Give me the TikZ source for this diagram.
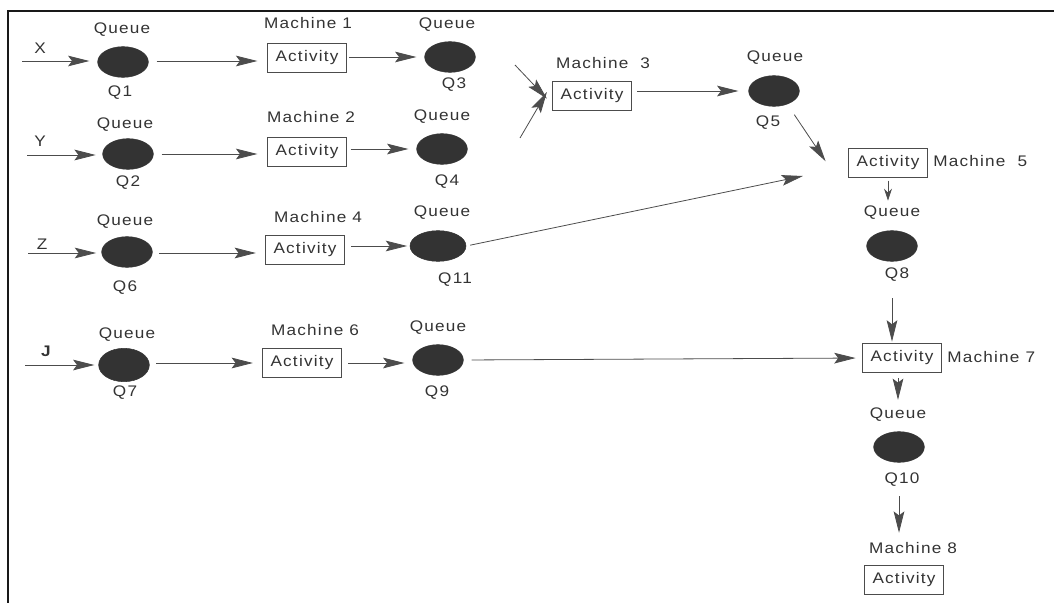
\documentclass[tikz,border=0pt]{standalone}
\usepackage{fontspec}
\newfontfamily\lblfont{Liberation Sans}[FakeStretch=1.12,LetterSpace=8]
\usetikzlibrary{arrows.meta,shapes.geometric}
\definecolor{ink}{gray}{0.2}
\definecolor{lnk}{gray}{0.3}
\definecolor{qfill}{gray}{0.2}
\tikzset{
  lbl/.style={font=\lblfont\fontsize{11.5}{13}\selectfont, text=ink, inner sep=0pt},
  queue/.style={ellipse, fill=qfill, draw=qfill, minimum width=38pt, minimum height=23pt, inner sep=0pt},
  actbox/.style={draw=lnk, line width=0.6pt, minimum width=59pt, minimum height=22pt, inner sep=0pt, font=\lblfont\fontsize{11.5}{13}\selectfont, text=ink},
  flow/.style={draw=lnk, line width=0.6pt, -{Stealth[length=16pt, width=8pt, inset=3pt]}},
}
\begin{document}
\begin{tikzpicture}[x=0.75pt, y=-0.75pt]
\useasboundingbox (0,0) rectangle (1054,603);
\draw[line width=1.6pt, black!90] (8,603) -- (8,11) -- (1054,11);

% Row 1
\node[lbl] (lx) at (40,48) {X};
\node[lbl] (lq1t) at (122,30) {Queue};
\node[queue] (q1) at (123,62) {};
\node[lbl] (lq1) at (120,93) {Q1};
\node[lbl] (lm1) at (308,23) {Machine 1};
\node[actbox] (m1) at (307,58) {Activity};
\node[lbl] (lq3t) at (447,25) {Queue};
\node[queue] (q3) at (450,57) {};
\node[lbl] (lq3) at (454,85) {Q3};
\coordinate (inx) at (22,61);

% Row 2
\node[lbl] (ly) at (40,141) {Y};
\node[lbl] (lq2t) at (125,125) {Queue};
\node[queue] (q2) at (128,154) {};
\node[lbl] (lq2) at (128,183) {Q2};
\node[lbl] (lm2) at (311,117) {Machine 2};
\node[actbox] (m2) at (307,152) {Activity};
\node[lbl] (lq4t) at (442,117) {Queue};
\node[queue] (q4) at (442,149) {};
\node[lbl] (lq4) at (447,182) {Q4};
\coordinate (iny) at (27,155);

% Row 3
\node[lbl] (lz) at (42,244) {Z};
\node[lbl] (lq6t) at (125,222) {Queue};
\node[queue] (q6) at (127,252) {};
\node[lbl] (lq6) at (125,288) {Q6};
\node[lbl] (lm4) at (318,217) {Machine 4};
\node[actbox] (m4) at (305,250) {Activity};
\node[lbl] (lq11t) at (442,213) {Queue};
\node[queue, minimum width=42pt] (q11) at (438,246) {};
\node[lbl] (lq11) at (455,280) {Q11};
\coordinate (inz) at (28,253);

% Row 4
\node[lbl, font=\lblfont\bfseries\fontsize{11.5}{13}\selectfont] (lj) at (46,351) {J};
\node[lbl] (lq7t) at (127,335) {Queue};
\node[queue, minimum height=25pt] (q7) at (124,365) {};
\node[lbl] (lq7) at (125,393) {Q7};
\node[lbl] (lm6) at (315,330) {Machine 6};
\node[actbox] (m6) at (302,363) {Activity};
\node[lbl] (lq9t) at (438,328) {Queue};
\node[queue] (q9) at (438,360) {};
\node[lbl] (lq9) at (437,393) {Q9};
\coordinate (inj) at (25,365);

% Machine 3 and Q5
\node[lbl] (lm3) at (603,63) {Machine\ \ 3};
\node[actbox] (m3) at (592,96) {Activity};
\coordinate (in3a) at (515,65);
\coordinate (in3b) at (520,138);
\node[lbl] (lq5t) at (775,58) {Queue};
\node[queue] (q5) at (774,91) {};
\node[lbl] (lq5) at (768,123) {Q5};

% Right column
\node[actbox] (m5) at (888,163) {Activity};
\node[lbl, anchor=west] (lm5) at (933,161) {Machine\ \ 5};
\coordinate (m5in) at (803,176);
\node[lbl] (lq8t) at (892,213) {Queue};
\node[queue] (q8) at (892,246) {};
\node[lbl] (lq8) at (897,275) {Q8};
\node[actbox] (m7) at (902,358) {Activity};
\node[lbl, anchor=west] (lm7) at (947,357) {Machine 7};
\node[lbl] (lq10t) at (898,415) {Queue};
\node[queue] (q10) at (899,447) {};
\node[lbl] (lq10) at (902,480) {Q10};
\node[lbl] (lm8) at (913,548) {Machine 8};
\node[actbox] (m8) at (904,580) {Activity};

% Connectors
\draw[flow] (inx) -- ([xshift=-6pt]q1.west |- inx);
\draw[flow] (iny) -- ([xshift=-5pt]q2.west |- iny);
\draw[flow] (inz) -- ([xshift=-4pt]q6.west |- inz);
\draw[flow] (inj) -- ([xshift=-3pt]q7.west |- inj);

\draw[flow, shorten <=6pt, shorten >=7.5pt] (q1.east |- inx) -- (m1.west |- inx);
\draw[flow, shorten <=6pt, shorten >=7.5pt] (q2.east) -- (m2.west |- q2.east);
\draw[flow, shorten <=5pt, shorten >=7pt] (q6.east |- inz) -- (m4.west |- inz);
\draw[flow, shorten <=5pt, shorten >=7pt] (q7.east |- m6) -- (m6.west);

\draw[flow, shorten <=2pt, shorten >=6pt] (m1.east |- q3) -- (q3.west);
\draw[flow, shorten <=3pt, shorten >=6pt] (m2.east |- q4) -- (q4.west);
\draw[flow, shorten <=5pt, shorten >=2pt] (m4.east |- q11) -- (q11.west);
\draw[flow, shorten <=5pt, shorten >=6pt] (m6.east) -- (q9.west |- m6);

\draw[flow] (in3a) -- ([xshift=-4pt,yshift=-2pt]m3.west);
\draw[flow] (in3b) -- ([xshift=-4pt,yshift=3pt]m3.west);
\draw[flow, shorten <=4pt, shorten >=7.5pt] (m3.east |- q5) -- (q5.west);

\draw[flow, shorten <=3pt] ([yshift=-7pt]q5.south east) -- ([xshift=-17pt,yshift=-10pt]m5.north west);
\draw[flow, shorten <=3pt] (q11.east) -- (m5in);
\draw[flow, shorten <=6pt, shorten >=5pt] (q9.east) -- (m7.west);

\draw[flow, -{Stealth[length=9pt, width=6pt]}, shorten <=2pt, shorten >=4pt] (m5.south) -- (lq8t.north -| m5.south);
\draw[flow, shorten <=12pt, shorten >=1pt] (lq8.south -| q8) -- (m7.north -| q8);
\draw[flow, shorten <=4pt, shorten >=6pt] (m7.south -| lq10t) -- (lq10t.north);
\draw[flow, shorten <=7pt, shorten >=7pt] (lq10.south -| q10) -- (lm8.north -| q10);
\end{tikzpicture}
\end{document}
